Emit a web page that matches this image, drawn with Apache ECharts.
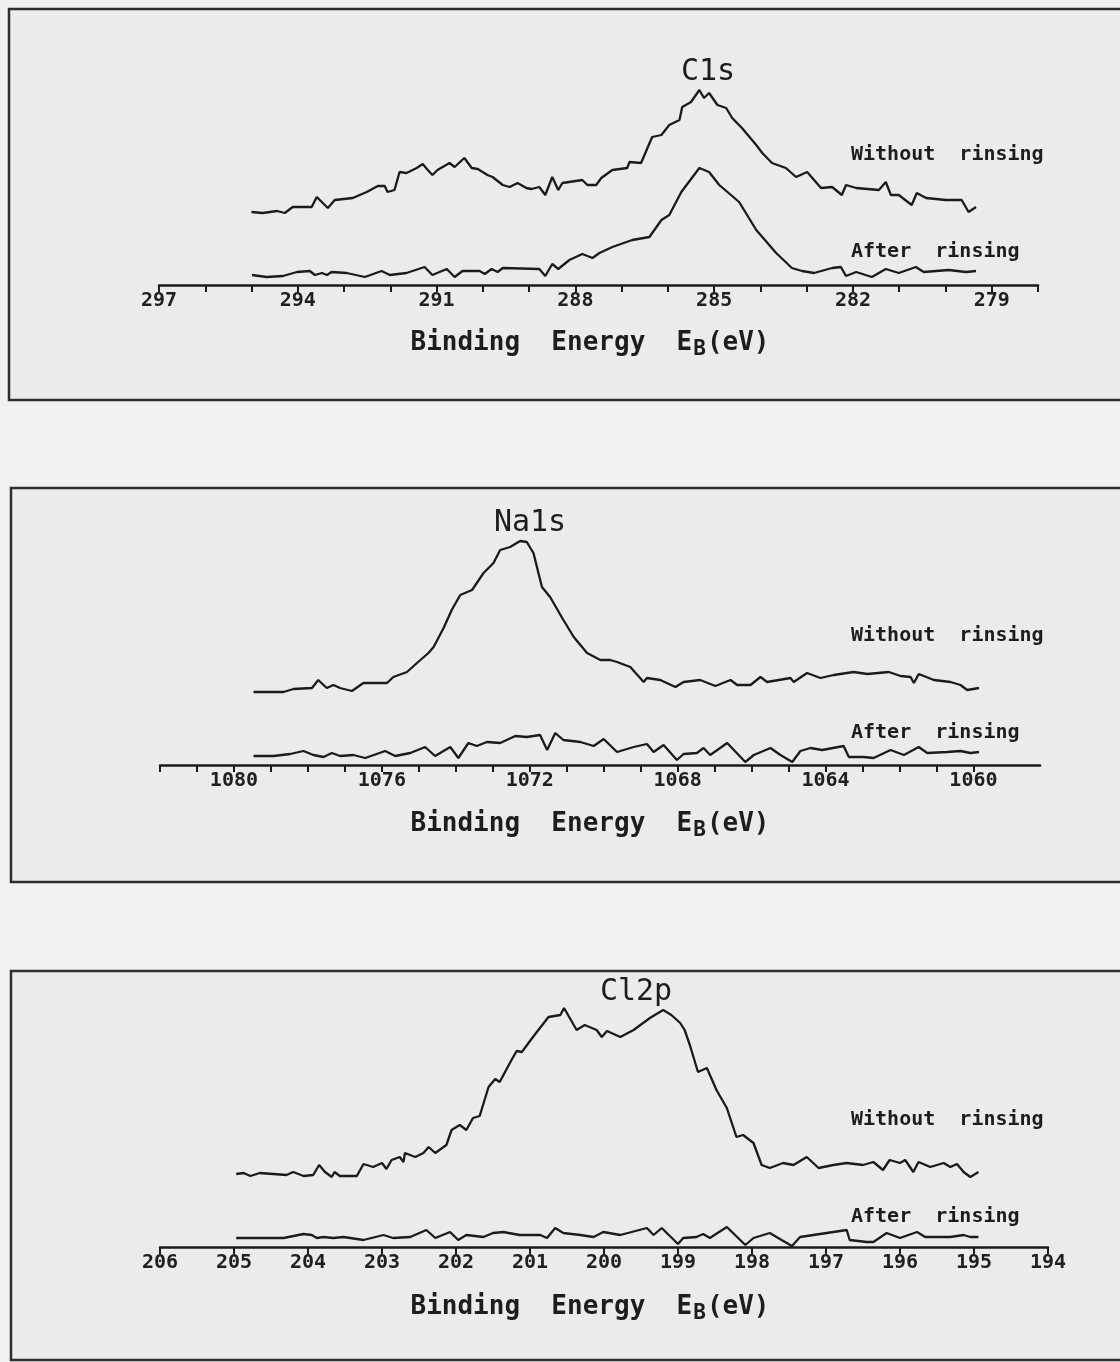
<!DOCTYPE html>
<html>
<head>
<meta charset="utf-8">
<script src="https://cdn.jsdelivr.net/npm/echarts@6/dist/echarts.min.js"></script>
<style>
  html, body { margin: 0; padding: 0; background: #f1f1f1; }
  #chart { width: 1120px; height: 1362px; }
</style>
</head>
<body>
<div id="chart"></div>
<script>
// ---------------- DATA ----------------
// C1s panel
const c1sEnergyWithout = [295.00,294.76,294.45,294.28,294.11,293.70,293.59,293.35,293.20,292.81,292.51,292.27,292.12,292.06,291.91,291.80,291.65,291.43,291.30,291.19,291.09,290.98,290.72,290.61,290.40,290.24,290.11,289.90,289.79,289.57,289.42,289.25,289.06,288.95,288.78,288.65,288.50,288.37,288.28,287.85,287.74,287.55,287.44,287.20,286.88,286.83,286.58,286.34,286.14,285.97,285.75,285.69,285.50,285.32,285.22,285.11,284.93,284.74,284.61,284.40,284.09,283.96,283.75,283.45,283.23,282.99,282.69,282.45,282.24,282.15,281.93,281.44,281.29,281.18,281.01,280.73,280.62,280.42,279.99,279.65,279.50,279.34];
const c1sIntWithout = [73,72,74,72,78,78,88,77,85,87,93,99,99,93,95,113,112,117,121,115,110,115,122,118,127,117,116,110,108,100,98,102,97,96,98,90,108,95,102,105,100,100,107,115,117,123,122,148,150,160,165,178,183,195,187,192,180,177,167,157,140,132,122,117,108,113,97,98,90,100,97,95,103,90,90,80,92,87,85,85,73,78];
const c1sEnergyAfter = [294.99,294.67,294.32,294.02,293.74,293.63,293.48,293.37,293.27,292.94,292.55,292.19,292.01,291.65,291.26,291.09,290.78,290.61,290.44,290.07,289.96,289.81,289.68,289.57,288.78,288.65,288.50,288.37,288.13,287.85,287.63,287.48,287.20,286.77,286.40,286.14,285.97,285.71,285.32,285.11,284.89,284.46,284.09,283.66,283.32,283.10,282.84,282.45,282.26,282.15,281.93,281.59,281.29,281.01,280.64,280.47,279.93,279.56,279.34];
const c1sIntAfter = [10,8,9,13,14,10,12,10,13,12,8,14,10,12,18,10,16,8,14,14,11,16,13,17,16,9,21,16,25,31,27,32,38,45,48,65,70,93,117,113,100,83,55,32,17,14,12,17,18,9,13,8,16,12,18,13,15,13,14];

// Na1s panel
const naEnergyWithout = [1079.47,1079.11,1078.66,1078.39,1077.89,1077.72,1077.49,1077.31,1077.13,1076.81,1076.50,1076.23,1075.86,1075.69,1075.32,1075.05,1074.74,1074.60,1074.33,1074.11,1073.88,1073.56,1073.25,1072.98,1072.80,1072.53,1072.26,1072.08,1071.90,1071.67,1071.45,1071.09,1070.81,1070.45,1070.09,1069.82,1069.64,1069.28,1068.92,1068.83,1068.47,1068.06,1067.84,1067.39,1066.98,1066.57,1066.39,1066.03,1065.76,1065.58,1064.95,1064.86,1064.50,1064.14,1063.78,1063.24,1062.87,1062.29,1061.97,1061.70,1061.61,1061.48,1061.07,1060.62,1060.35,1060.17,1059.85];
const naIntWithout = [73,73,73,76,77,85,77,80,77,74,82,82,82,88,93,102,112,118,137,155,170,175,192,202,215,218,224,223,212,178,168,145,128,112,105,105,103,98,83,87,85,78,83,85,79,85,80,80,88,83,87,83,92,87,90,93,91,93,89,88,82,91,85,83,80,75,77];
const naEnergyAfter = [1079.47,1078.93,1078.48,1078.12,1077.85,1077.58,1077.35,1077.13,1076.77,1076.45,1075.91,1075.64,1075.23,1074.83,1074.56,1074.15,1073.93,1073.66,1073.43,1073.16,1072.80,1072.39,1072.08,1071.72,1071.53,1071.31,1071.09,1070.63,1070.27,1070.00,1069.64,1069.19,1068.83,1068.65,1068.38,1068.02,1067.84,1067.48,1067.30,1067.12,1066.66,1066.17,1065.94,1065.49,1065.22,1064.90,1064.68,1064.41,1064.09,1063.51,1063.37,1062.97,1062.70,1062.24,1061.88,1061.48,1061.25,1060.71,1060.35,1060.08,1059.85];
const naIntAfter = [9,9,11,14,10,8,12,9,10,7,14,9,12,18,9,18,7,22,19,23,22,29,28,30,15,32,25,23,19,26,13,18,21,13,20,5,11,12,17,10,22,3,10,17,10,3,14,17,15,19,8,8,7,15,10,18,12,13,14,12,13];

// Cl2p panel
const clEnergyWithout = [204.97,204.87,204.78,204.65,204.29,204.20,204.06,203.93,203.85,203.77,203.68,203.64,203.57,203.34,203.25,203.12,203.00,202.94,202.87,202.76,202.71,202.69,202.55,202.44,202.37,202.28,202.13,202.06,201.95,201.86,201.77,201.68,201.56,201.47,201.41,201.25,201.18,201.11,200.96,200.75,200.59,200.54,200.37,200.26,200.10,200.03,199.96,199.78,199.60,199.38,199.20,199.09,198.97,198.91,198.84,198.73,198.61,198.48,198.34,198.21,198.12,197.98,197.87,197.76,197.58,197.44,197.26,197.10,196.90,196.72,196.50,196.36,196.23,196.14,196.00,195.93,195.82,195.75,195.59,195.41,195.32,195.23,195.14,195.05,194.94];
const clIntWithout = [73,74,71,74,72,75,71,72,82,75,70,75,71,71,83,80,84,78,87,90,85,94,90,94,100,94,102,117,122,117,129,131,160,168,165,187,196,195,210,230,232,239,217,222,217,210,216,210,217,229,237,232,224,217,202,175,179,157,139,110,112,104,82,79,84,82,90,79,82,84,82,85,77,87,84,87,75,85,80,84,80,83,75,70,75];
const clEnergyAfter = [204.97,204.33,204.06,203.95,203.88,203.79,203.66,203.52,203.25,202.98,202.85,202.62,202.40,202.28,202.08,201.97,201.86,201.63,201.50,201.36,201.14,200.86,200.77,200.66,200.55,200.32,200.14,200.01,199.78,199.42,199.33,199.22,199.00,198.93,198.75,198.66,198.57,198.34,198.09,197.98,197.76,197.60,197.46,197.35,197.17,196.90,196.72,196.68,196.45,196.36,196.18,196.00,195.77,195.66,195.32,195.14,195.05,194.94];
const clIntAfter = [9,9,13,12,9,10,9,10,7,12,9,10,17,9,15,7,12,10,14,15,12,12,9,19,14,12,10,15,12,19,12,19,3,9,10,13,9,20,2,9,14,7,1,10,12,15,17,7,5,5,14,9,15,10,10,12,10,10];

// Axis ticks and labels
const c1sTicks = [278,279,280,281,282,283,284,285,286,287,288,289,290,291,292,293,294,295,296,297];
const c1sTickLabels = [279,282,285,288,291,294,297];
const naTicks = [1060,1061,1062,1063,1064,1065,1066,1067,1068,1069,1070,1071,1072,1073,1074,1075,1076,1077,1078,1079,1080,1081,1082];
const naTickLabels = [1060,1064,1068,1072,1076,1080];
const clTicks = [194,195,196,197,198,199,200,201,202,203,204,205,206];
const clTickLabels = [194,195,196,197,198,199,200,201,202,203,204,205,206];

const panelTitles = ['C1s', 'Na1s', 'Cl2p'];
const seriesNames = ['Without  rinsing', 'After  rinsing'];

// ---------------- CHART ----------------
function zip(xs, ys) { return xs.map((x, i) => [x, ys[i]]); }

const INK = '#1b1b1b';

function makeXAxis(gridIndex, min, max, ticks, labels) {
  return {
    type: 'value', gridIndex, min, max, inverse: true,
    splitLine: { show: false },
    axisLine: { show: true, onZero: false, lineStyle: { color: INK, width: 2.5 } },
    axisTick: { show: true, inside: false, length: 7, customValues: ticks, lineStyle: { color: INK, width: 2 } },
    axisLabel: { show: true, customValues: labels, margin: 6, color: '#202020', fontSize: 20,
      fontFamily: 'DejaVu Sans Mono', fontWeight: 'bold', formatter: v => String(Math.round(v)) }
  };
}
function makeYAxis(gridIndex, max) {
  return { type: 'value', gridIndex, min: 0, max, show: false, splitLine: { show: false } };
}
function makeSeries(name, idx, data) {
  return {
    name, type: 'line', xAxisIndex: idx, yAxisIndex: idx, data,
    showSymbol: false, symbol: 'none', smooth: false, animation: false,
    lineStyle: { color: INK, width: 2.3 }, z: 3
  };
}

function frame(x, y, w, h) {
  return { type: 'rect', z: 0, silent: true, shape: { x, y, width: w, height: h },
    style: { fill: '#ebebeb', stroke: '#2e2e2e', lineWidth: 2.5 } };
}
function txt(x, y, text, size, weight, align) {
  return { type: 'text', z: 5, silent: true, x, y,
    style: { text, fill: '#1d1d1d', font: `${weight} ${size}px "DejaVu Sans Mono"`, textAlign: align || 'left', textVerticalAlign: 'middle' } };
}
function axisTitle(cx, cy) {
  return { type: 'text', z: 5, silent: true, x: cx, y: cy,
    style: {
      text: 'Binding  Energy  E{sub|B}(eV)',
      textAlign: 'center', textVerticalAlign: 'middle',
      fill: '#1d1d1d', font: 'bold 26px "DejaVu Sans Mono"',
      rich: { sub: { fontSize: 21, fontWeight: 'bold', fontFamily: 'DejaVu Sans Mono', fill: '#1d1d1d', padding: [14, 1, 0, 1] } }
    } };
}

const chart = echarts.init(document.getElementById('chart'), null, { renderer: 'canvas' });
chart.setOption({
  backgroundColor: '#f1f1f1',
  animation: false,
  grid: [
    { left: 159, right: 82, top: 85, height: 200 },
    { left: 160, right: 80, top: 525, height: 240 },
    { left: 160, right: 72, top: 997, height: 250 }
  ],
  xAxis: [
    makeXAxis(0, 278, 297, c1sTicks, c1sTickLabels),
    makeXAxis(1, 1058.2, 1082, naTicks, naTickLabels),
    makeXAxis(2, 194, 206, clTicks, clTickLabels)
  ],
  yAxis: [makeYAxis(0, 200), makeYAxis(1, 240), makeYAxis(2, 250)],
  series: [
    makeSeries(seriesNames[0], 0, zip(c1sEnergyWithout, c1sIntWithout)),
    makeSeries(seriesNames[1], 0, zip(c1sEnergyAfter, c1sIntAfter)),
    makeSeries(seriesNames[0], 1, zip(naEnergyWithout, naIntWithout)),
    makeSeries(seriesNames[1], 1, zip(naEnergyAfter, naIntAfter)),
    makeSeries(seriesNames[0], 2, zip(clEnergyWithout, clIntWithout)),
    makeSeries(seriesNames[1], 2, zip(clEnergyAfter, clIntAfter))
  ],
  graphic: [
    frame(9, 9, 1130, 391),
    frame(11, 488, 1130, 394),
    frame(11, 971, 1130, 389),
    txt(708, 72, panelTitles[0], 30, 'normal', 'center'),
    txt(530, 523, panelTitles[1], 30, 'normal', 'center'),
    txt(636, 992, panelTitles[2], 30, 'normal', 'center'),
    txt(851, 155, seriesNames[0], 20, 'bold'),
    txt(851, 252, seriesNames[1], 20, 'bold'),
    txt(851, 636, seriesNames[0], 20, 'bold'),
    txt(851, 733, seriesNames[1], 20, 'bold'),
    txt(851, 1120, seriesNames[0], 20, 'bold'),
    txt(851, 1217, seriesNames[1], 20, 'bold'),
    axisTitle(590, 343),
    axisTitle(590, 824),
    axisTitle(590, 1307)
  ]
});
</script>
</body>
</html>
